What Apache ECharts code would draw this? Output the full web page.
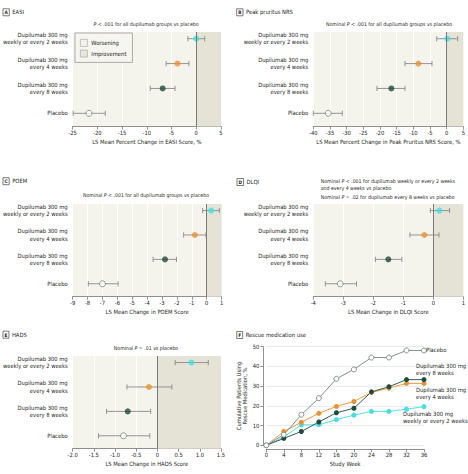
<!DOCTYPE html>
<html><head><meta charset="utf-8">
<script src="https://cdn.jsdelivr.net/npm/echarts@6/dist/echarts.min.js"></script>
<style>html,body{margin:0;padding:0;background:#fff}#c{width:468px;height:474px}</style>
</head><body><div id="c"></div>
<script>
// ---------- data ----------
const categories = ['Dupilumab 300 mg\nweekly or every 2 weeks', 'Dupilumab 300 mg\nevery 4 weeks', 'Dupilumab 300 mg\nevery 8 weeks', 'Placebo'];

const easiMean = [0, -3.8, -6.8, -21.7];
const easiLow  = [-1.7, -6.1, -9.3, -24.9];
const easiHigh = [1.7, -1.5, -4.3, -18.4];

const nrsMean = [0.2, -8.5, -16.6, -35.5];
const nrsLow  = [-3.0, -12.5, -20.9, -40];
const nrsHigh = [3.3, -4.4, -12.5, -31.3];

const poemMean = [0.3, -0.8, -2.8, -7.0];
const poemLow  = [-0.27, -1.55, -3.6, -7.95];
const poemHigh = [0.85, -0.05, -2.03, -5.95];

const dlqiMean = [0.2, -0.3, -1.5, -3.1];
const dlqiLow  = [-0.1, -0.78, -1.93, -3.6];
const dlqiHigh = [0.54, 0.19, -1.05, -2.56];

const hadsMean = [0.8, -0.2, -0.7, -0.8];
const hadsLow  = [0.42, -0.72, -1.2, -1.39];
const hadsHigh = [1.2, 0.34, -0.16, -0.18];

const weeks = [0, 4, 8, 12, 16, 20, 24, 28, 32, 36];
const rescuePlacebo = [0, 5.4, 15.5, 23.9, 33.7, 38.5, 44.5, 44.5, 48.1, 48.1];
const rescueQ8w = [0, 3.5, 7.0, 11.8, 16.5, 18.8, 27.1, 29.7, 33.3, 33.3];
const rescueQ4w = [0, 7.0, 11.7, 16.2, 19.7, 22.2, 26.8, 29.0, 31.4, 31.4];
const rescueQ2w = [0, 4.2, 10.4, 10.4, 13.0, 15.3, 17.2, 17.2, 18.3, 19.6];

const lineLabels = ['Placebo', 'Dupilumab 300 mg\nevery 8 weeks', 'Dupilumab 300 mg\nevery 4 weeks', 'Dupilumab 300 mg\nweekly or every 2 weeks'];

// ---------- style ----------
const FONT = "'DejaVu Sans Condensed','Liberation Sans Narrow','Arial Narrow',sans-serif";
const TXT = '#231f20';
const BG = '#f4f3ec';
const IMP = '#e4e3d5';
const COLORS = ['#3fe0e6', '#f0902c', '#1f4b3f', '#ffffff'];
const PLC = '#75867f';
const FS = 5.8;
const SFS = 5.2;

const grids = [], xAxes = [], yAxes = [], series = [];

function forest(i, rect, xMin, xMax, xInt, xName, fmt, mean, low, high) {
  grids.push(Object.assign({show: true, backgroundColor: BG, borderWidth: 0, containLabel: false}, rect));
  xAxes.push({
    gridIndex: i, type: 'value', min: xMin, max: xMax, interval: xInt,
    name: xName, nameLocation: 'middle', nameGap: 12,
    nameTextStyle: {fontSize: FS, color: TXT, fontFamily: FONT},
    axisLine: {show: true, onZero: false, lineStyle: {color: '#777', width: 0.8}},
    axisTick: {show: true, length: 3, lineStyle: {color: '#777', width: 0.8}},
    axisLabel: {fontSize: FS, color: TXT, margin: 3, fontFamily: FONT, formatter: fmt},
    splitLine: {show: true, lineStyle: {color: '#ffffff', width: 1}}
  });
  yAxes.push({
    gridIndex: i, type: 'value', inverse: true, min: -0.27, max: 3.53,
    axisLine: {show: false}, axisTick: {show: false}, splitLine: {show: false},
    axisLabel: {customValues: [0, 1, 2, 3], formatter: v => categories[Math.round(v)],
      fontSize: FS, color: TXT, margin: 5, lineHeight: 7.2, fontFamily: FONT, align: 'right'}
  });
  series.push({
    type: 'scatter', name: 'Improvement', xAxisIndex: i, yAxisIndex: i, data: [], z: 1, silent: true,
    itemStyle: {color: IMP},
    markArea: {silent: true, itemStyle: {color: IMP}, data: [[{xAxis: 0}, {xAxis: xMax}]]}
  });
  series.push({
    type: 'custom', xAxisIndex: i, yAxisIndex: i, z: 3, silent: true,
    data: mean.map((m, k) => [low[k], high[k], k]),
    encode: {x: [0, 1], y: 2},
    renderItem: function (params, api) {
      const a = api.coord([api.value(0), api.value(2)]);
      const b = api.coord([api.value(1), api.value(2)]);
      const st = {stroke: '#8a8a8a', lineWidth: 0.9};
      return {type: 'group', children: [
        {type: 'line', shape: {x1: a[0], y1: a[1], x2: b[0], y2: b[1]}, style: st},
        {type: 'line', shape: {x1: a[0], y1: a[1] - 2.6, x2: a[0], y2: a[1] + 2.6}, style: st},
        {type: 'line', shape: {x1: b[0], y1: b[1] - 2.6, x2: b[0], y2: b[1] + 2.6}, style: st}
      ]};
    }
  });
  series.push({
    type: 'scatter', xAxisIndex: i, yAxisIndex: i, z: 4, symbolSize: 6, silent: true,
    data: mean.map((m, k) => ({value: [m, k], itemStyle: {color: COLORS[k], borderColor: k === 3 ? PLC : COLORS[k], borderWidth: k === 3 ? 1 : 0}})),
    markLine: {silent: true, symbol: ['none', 'none'], label: {show: false},
      lineStyle: {color: '#7a7a7a', width: 1, type: 'solid'}, data: [{xAxis: 0}]}
  });
}

const intFmt = v => String(v);
const decFmt = v => v === 0 ? '0' : v.toFixed(1);

forest(0, {left: 70.3, top: 32, width: 150.7, height: 94.5}, -25, 5, 5, 'LS Mean Percent Change in EASI Score, %', intFmt, easiMean, easiLow, easiHigh);
forest(1, {left: 313.3, top: 32, width: 150.7, height: 94.5}, -40, 5, 5, 'LS Mean Percent Change in Peak Pruritus NRS Score, %', intFmt, nrsMean, nrsLow, nrsHigh);
forest(2, {left: 70.3, top: 204, width: 151.3, height: 92.7}, -9, 1, 1, 'LS Mean Change in POEM Score', intFmt, poemMean, poemLow, poemHigh);
forest(3, {left: 313.3, top: 204, width: 150.7, height: 92.7}, -4, 1, 1, 'LS Mean Change in DLQI Score', intFmt, dlqiMean, dlqiLow, dlqiHigh);
forest(4, {left: 70.3, top: 356, width: 150.7, height: 92.7}, -2, 1.5, 0.5, 'LS Mean Change in HADS Score', decFmt, hadsMean, hadsLow, hadsHigh);

series.push({type: 'scatter', name: 'Worsening', xAxisIndex: 0, yAxisIndex: 0, data: [], itemStyle: {color: BG}});

// Panel F
grids.push({left: 266.3, top: 346.7, width: 157.7, height: 98.6});
xAxes.push({
  gridIndex: 5, type: 'value', min: 0, max: 36, interval: 4, offset: 4,
  name: 'Study Week', nameLocation: 'middle', nameGap: 12,
  nameTextStyle: {fontSize: FS, color: TXT, fontFamily: FONT},
  axisLine: {show: true, onZero: false, lineStyle: {color: '#777', width: 0.8}},
  axisTick: {show: true, length: 3, lineStyle: {color: '#777', width: 0.8}},
  axisLabel: {fontSize: FS, color: TXT, margin: 3, fontFamily: FONT},
  splitLine: {show: false}
});
yAxes.push({
  gridIndex: 5, type: 'value', min: 0, max: 50, interval: 10, offset: 3,
  name: 'Cumulative Patients Using\nRescue Medication, %', nameLocation: 'middle', nameGap: 9,
  nameTextStyle: {fontSize: FS, color: TXT, fontFamily: FONT, lineHeight: 6.6},
  axisLine: {show: true, onZero: false, lineStyle: {color: '#777', width: 0.8}},
  axisTick: {show: true, length: 3, lineStyle: {color: '#777', width: 0.8}},
  axisLabel: {fontSize: FS, color: TXT, margin: 4, fontFamily: FONT},
  splitLine: {show: true, lineStyle: {color: '#e6e6e6', width: 0.8}}
});

const rescueSets = [
  {vals: rescueQ2w, color: COLORS[0], border: COLORS[0], label: lineLabels[3], off: [-23, 11]},
  {vals: rescueQ4w, color: COLORS[1], border: COLORS[1], label: lineLabels[2], off: [-10, 10]},
  {vals: rescueQ8w, color: COLORS[2], border: COLORS[2], label: lineLabels[1], off: [-10, -10]},
  {vals: rescuePlacebo, color: '#ffffff', border: PLC, label: lineLabels[0], off: [0, 0]}
];
rescueSets.forEach(s => {
  series.push({
    type: 'line', xAxisIndex: 5, yAxisIndex: 5, silent: true,
    data: weeks.map((w, k) => [w, s.vals[k]]),
    symbol: 'circle', symbolSize: 5, showSymbol: true,
    lineStyle: {color: s.border, width: 0.9},
    itemStyle: {color: s.color, borderColor: s.border, borderWidth: s.color === '#ffffff' ? 0.9 : 0},
    endLabel: {show: true, formatter: s.label, distance: 2, offset: s.off, align: 'left',
      fontSize: FS, color: TXT, lineHeight: 7.2, fontFamily: FONT}
  });
});

// ---------- texts ----------
function panelTitle(letter, name, x, y) {
  return {type: 'text', x: x, y: y, style: {
    text: '{b|' + letter + '}{t|' + name + '}', verticalAlign: 'middle', align: 'left',
    rich: {
      b: {fontSize: 4.8, fontWeight: 'bold', fontFamily: FONT, fill: TXT, borderColor: '#444', borderWidth: 0.7, padding: [1.5, 1.5, 0.5, 1.5]},
      t: {fontSize: FS, fontFamily: FONT, fill: TXT, padding: [0, 0, 0, 3]}
    }
  }};
}
function sub(text, x, y, align) {
  return {type: 'text', x: x, y: y, style: {
    text: text, align: align || 'center', verticalAlign: 'middle',
    fontSize: SFS, fontFamily: FONT, fill: TXT,
    rich: {i: {fontSize: SFS, fontStyle: 'italic', fontFamily: FONT, fill: TXT}}
  }};
}

const graphics = [
  panelTitle('A', 'EASI', 3, 12.3),
  panelTitle('B', 'Peak pruritus NRS', 236.7, 12.3),
  panelTitle('C', 'POEM', 3, 181.2),
  panelTitle('D', 'DLQI', 237, 182),
  panelTitle('E', 'HADS', 3, 334.7),
  panelTitle('F', 'Rescue medication use', 236.7, 335),
  sub('{i|P} < .001 for all dupilumab groups vs placebo', 146, 24),
  sub('Nominal {i|P} < .001 for all dupilumab groups vs placebo', 389, 24),
  sub('Nominal {i|P} < .001 for all dupilumab groups vs placebo', 146, 195),
  sub('Nominal {i|P} < .001 for dupilumab weekly or every 2 weeks', 320.7, 180.7, 'left'),
  sub('and every 4 weeks vs placebo', 320.7, 188.2, 'left'),
  sub('Nominal {i|P} = .02 for dupilumab every 8 weeks vs placebo', 320.7, 197, 'left'),
  sub('Nominal {i|P} = .01 vs placebo', 146, 347.7)
];

const chart = echarts.init(document.getElementById('c'), null, {renderer: 'svg'});
chart.setOption({
  animation: false,
  backgroundColor: '#ffffff',
  textStyle: {fontFamily: FONT},
  grid: grids, xAxis: xAxes, yAxis: yAxes, series: series,
  legend: {
    show: true, selectedMode: false, orient: 'vertical', left: 75, top: 33,
    padding: [6, 6, 5, 5], itemGap: 3, itemWidth: 7, itemHeight: 7, icon: 'rect',
    backgroundColor: '#f6f5ef', borderColor: '#999', borderWidth: 0.8, borderRadius: 0,
    textStyle: {fontSize: FS, color: TXT, fontFamily: FONT, padding: [0, 0, 0, -1]},
    data: [
      {name: 'Worsening', itemStyle: {color: BG, borderColor: '#999', borderWidth: 0.7}},
      {name: 'Improvement', itemStyle: {color: IMP, borderColor: '#999', borderWidth: 0.7}}
    ]
  },
  graphic: graphics
});
</script></body></html>
